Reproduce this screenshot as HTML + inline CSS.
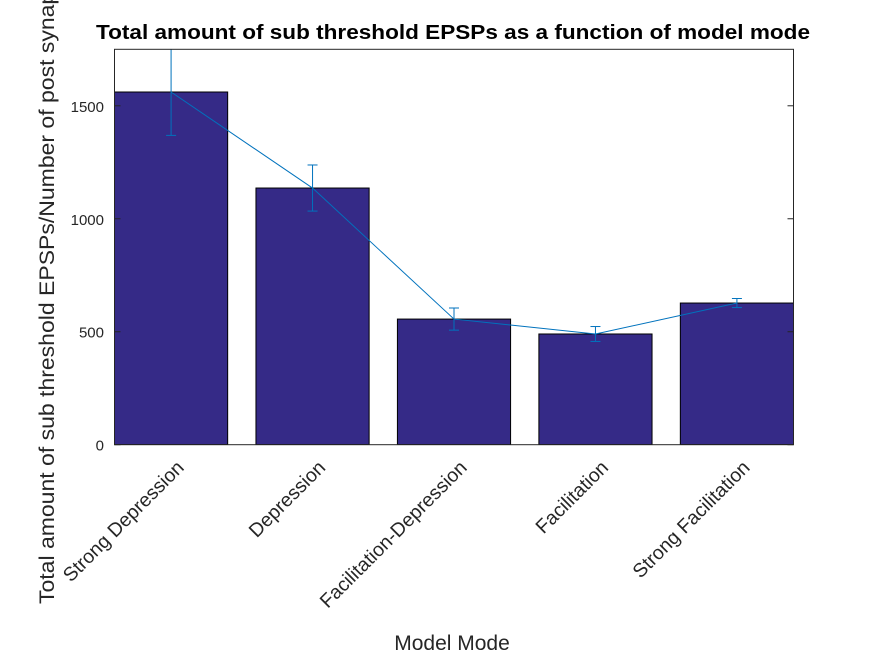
<!DOCTYPE html>
<html><head><meta charset="utf-8"><style>
body{margin:0;background:#fff;}
svg{display:block;font-family:"Liberation Sans",sans-serif;}
</style></head><body>
<svg id="chart" width="875" height="656">
<defs><clipPath id="clip"><rect x="114.5" y="49.3" width="679" height="395.4"/></clipPath></defs>
<text x="453" y="39" text-anchor="middle" font-size="20" font-weight="bold" fill="#000" textLength="714" lengthAdjust="spacingAndGlyphs">Total amount of sub threshold EPSPs as a function of model mode</text>
<g id="bars" clip-path="url(#clip)"></g>
<g id="overlay" clip-path="url(#clip)"></g>
<rect x="114.5" y="49.3" width="679" height="395.4" fill="none" stroke="#262626" stroke-width="1"/>
<g id="ticks"></g>
<text x="452" y="650" text-anchor="middle" font-size="21" fill="#262626">Model Mode</text>
<text transform="translate(54,604) rotate(-90)" text-anchor="start" font-size="21" fill="#262626" textLength="648" lengthAdjust="spacingAndGlyphs">Total amount of sub threshold EPSPs/Number of post synapses</text>
</svg>
<script>
const categories=["Strong Depression","Depression","Facilitation-Depression","Facilitation","Strong Facilitation"];
const means=[1561,1136,556,490,627];
const errors=[192,102,49,33,20];
const yTicks=[0,500,1000,1500];
const NS="http://www.w3.org/2000/svg";
const L=114.5,R=793.5,T=49.3,B=444.7;
const xMin=0.6,xMax=5.4,yMin=0,yMax=1750;
function xs(i){return L+(i-xMin)/(xMax-xMin)*(R-L);}
function ys(v){return B-(v-yMin)/(yMax-yMin)*(B-T);}
function mk(tag,attrs,parent){const e=document.createElementNS(NS,tag);for(const k in attrs)e.setAttribute(k,attrs[k]);parent.appendChild(e);return e;}
const bars=document.getElementById('bars'),ov=document.getElementById('overlay'),tk=document.getElementById('ticks');
const bw=0.8*(R-L)/(xMax-xMin);
categories.forEach((c,i)=>{
  const cx=xs(i+1);
  const r=mk('rect',{x:cx-bw/2,y:ys(means[i]),width:bw,height:ys(0)-ys(means[i]),fill:'#352a87',stroke:'#000','stroke-width':1},bars);
  
  
  const t=mk('text',{'text-anchor':'end','font-size':19.5,fill:'#262626',transform:`translate(${cx+14},${B+24}) rotate(-45)`},tk);
  t.textContent=c;
  
  
  const e1=ys(means[i]+errors[i]),e2=ys(means[i]-errors[i]);
  const g=mk('g',{stroke:'#0072bd','stroke-width':1},ov);
  
  
  mk('line',{x1:cx,x2:cx,y1:e1,y2:e2},g);
  mk('line',{x1:cx-5,x2:cx+5,y1:e1,y2:e1},g);
  mk('line',{x1:cx-5,x2:cx+5,y1:e2,y2:e2},g);
});
const pl=mk('polyline',{points:means.map((m,i)=>xs(i+1)+','+ys(m)).join(' '),fill:'none',stroke:'#0072bd','stroke-width':1},ov);


yTicks.forEach(v=>{
  const t=mk('text',{x:104,y:ys(v)+6,'text-anchor':'end','font-size':15,fill:'#262626'},tk);
  t.textContent=v;
  
  
  mk('line',{x1:L,x2:L+6,y1:ys(v),y2:ys(v),stroke:'#262626'},tk);
  mk('line',{x1:R,x2:R-6,y1:ys(v),y2:ys(v),stroke:'#262626'},tk);
});
</script>
</body></html>
